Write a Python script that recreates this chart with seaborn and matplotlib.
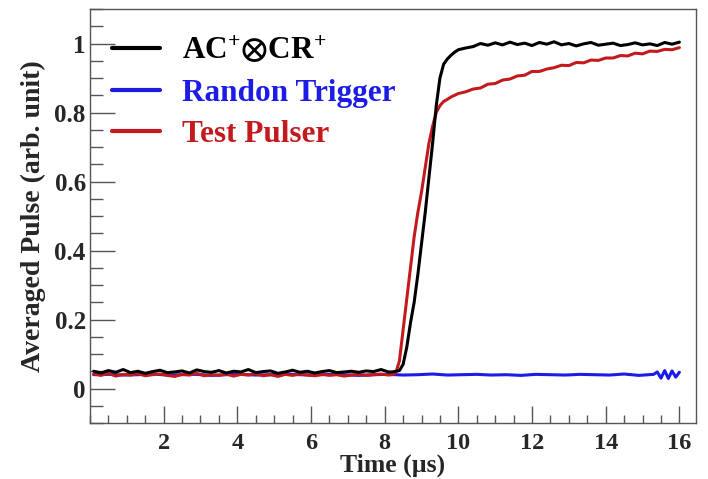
import matplotlib
matplotlib.use("Agg")
import matplotlib.pyplot as plt
from matplotlib.ticker import MultipleLocator
import seaborn as sns
import pandas as pd

TIME = [0.1, 0.3, 0.5, 0.7, 0.9, 1.1, 1.3, 1.5, 1.7, 1.9, 2.1, 2.3, 2.5, 2.7, 2.9,
        3.1, 3.3, 3.5, 3.7, 3.9, 4.1, 4.3, 4.5, 4.7, 4.9, 5.1, 5.3, 5.5, 5.7, 5.9,
        6.1, 6.3, 6.5, 6.7, 6.9, 7.1, 7.3, 7.5, 7.7, 7.9, 8.1,
        8.2, 8.3, 8.4, 8.5, 8.6, 8.7, 8.8, 8.9, 9.0, 9.1, 9.2, 9.3, 9.4, 9.5,
        9.6, 9.7, 9.8, 9.9, 10.0,
        10.2, 10.4, 10.6, 10.8, 11.0, 11.2, 11.4, 11.6, 11.8, 12.0, 12.2, 12.4,
        12.6, 12.8, 13.0, 13.2, 13.4, 13.6, 13.8, 14.0, 14.2, 14.4, 14.6, 14.8,
        15.0, 15.2, 15.4, 15.6, 15.8, 16.0]

AC_CR = [0.050, 0.045, 0.052, 0.047, 0.055, 0.046, 0.050, 0.044, 0.049, 0.053,
         0.046, 0.048, 0.051, 0.045, 0.054, 0.049, 0.047, 0.052, 0.045, 0.050,
         0.048, 0.055, 0.046, 0.049, 0.051, 0.044, 0.048, 0.053, 0.047, 0.050,
         0.045, 0.049, 0.052, 0.046, 0.048, 0.050, 0.047, 0.051, 0.049, 0.055, 0.048,
         0.048, 0.050, 0.052, 0.070, 0.12, 0.19, 0.25, 0.33, 0.42, 0.51,
         0.61, 0.71, 0.82, 0.90, 0.94, 0.955, 0.966, 0.975, 0.982,
         0.987, 0.991, 1.000, 0.995, 1.002, 0.996, 1.004, 0.997, 1.001, 0.994,
         1.003, 0.998, 1.005, 0.996, 1.000, 0.993, 0.999, 1.003, 0.995, 0.998,
         1.001, 0.994, 0.997, 1.002, 0.996, 0.999, 0.994, 1.003, 0.998, 1.004]

TEST_PULSER = [0.042, 0.038, 0.044, 0.036, 0.041, 0.039, 0.043, 0.037, 0.040, 0.042,
               0.038, 0.035, 0.041, 0.039, 0.044, 0.037, 0.040, 0.038, 0.042, 0.036,
               0.041, 0.039, 0.043, 0.037, 0.040, 0.035, 0.041, 0.038, 0.042, 0.039,
               0.037, 0.041, 0.038, 0.040, 0.036, 0.039, 0.041, 0.038, 0.040, 0.042, 0.039,
               0.040, 0.045, 0.080, 0.17, 0.26, 0.35, 0.44, 0.51, 0.57, 0.64,
               0.71, 0.76, 0.80, 0.82, 0.832, 0.838, 0.845, 0.850, 0.855,
               0.860, 0.868, 0.871, 0.882, 0.884, 0.894, 0.897, 0.906, 0.908, 0.919,
               0.919, 0.926, 0.930, 0.937, 0.936, 0.945, 0.944, 0.952, 0.951, 0.958,
               0.958, 0.965, 0.964, 0.972, 0.970, 0.978, 0.977, 0.983, 0.982, 0.988]

BLUE_TIME = [0.1, 0.5, 0.9, 1.3, 1.7, 2.1, 2.5, 2.9, 3.3, 3.7, 4.1, 4.5, 4.9, 5.3,
             5.7, 6.1, 6.5, 6.9, 7.3, 7.7, 8.1, 8.5, 8.9, 9.3, 9.7, 10.1, 10.5, 10.9,
             11.3, 11.7, 12.1, 12.5, 12.9, 13.3, 13.7, 14.1, 14.5, 14.9, 15.3,
             15.4, 15.5, 15.6, 15.7, 15.8, 15.9, 16.0]
RANDOM_TRIGGER = [0.040, 0.041, 0.039, 0.040, 0.042, 0.039, 0.040, 0.041, 0.038, 0.040,
                  0.041, 0.039, 0.040, 0.042, 0.040, 0.039, 0.041, 0.040, 0.038, 0.040,
                  0.041, 0.039, 0.040, 0.042, 0.039, 0.040, 0.041, 0.039, 0.040, 0.038,
                  0.041, 0.040, 0.039, 0.041, 0.040, 0.039, 0.042, 0.038, 0.041,
                  0.048, 0.030, 0.052, 0.029, 0.051, 0.033, 0.047]

LABELS = [r"AC$^{\mathbf{+}}$$\otimes$CR$^{\mathbf{+}}$", "Randon Trigger", "Test Pulser"]
COLORS = ["#000000", "#1c1ce6", "#c41a1e"]

sns.set_theme(style="white")
plt.rcParams["font.family"] = ["Liberation Serif", "DejaVu Serif"]
plt.rcParams["font.weight"] = "bold"
plt.rcParams["mathtext.fontset"] = "custom"
plt.rcParams["mathtext.rm"] = "Liberation Serif:bold"
plt.rcParams["mathtext.bf"] = "Liberation Serif:bold"
plt.rcParams["mathtext.it"] = "Liberation Serif:bold"
plt.rcParams["mathtext.fallback"] = "stix"

fig = plt.figure(figsize=(7.08, 4.79), dpi=100)
ax = fig.add_axes([0.1271, 0.1169, 0.983 - 0.1271, 0.9812 - 0.1169])

df_black = pd.DataFrame({"t": TIME, "v": AC_CR})
df_red = pd.DataFrame({"t": TIME, "v": TEST_PULSER})
df_blue = pd.DataFrame({"t": BLUE_TIME, "v": RANDOM_TRIGGER})

lw = 2.2
sns.lineplot(data=df_blue, x="t", y="v", ax=ax, color=COLORS[1], lw=lw, label=LABELS[1], zorder=2)
sns.lineplot(data=df_red, x="t", y="v", ax=ax, color=COLORS[2], lw=lw, label=LABELS[2], zorder=3)
sns.lineplot(data=df_black, x="t", y="v", ax=ax, color=COLORS[0], lw=lw, label=LABELS[0], zorder=4)

ax.set_xlim(0.0, 16.45)
ax.set_ylim(-0.1, 1.1)
ax.xaxis.set_major_locator(MultipleLocator(2))
ax.xaxis.set_minor_locator(MultipleLocator(0.5))
ax.yaxis.set_major_locator(MultipleLocator(0.2))
ax.yaxis.set_minor_locator(MultipleLocator(0.05))
ax.set_xticks([2, 4, 6, 8, 10, 12, 14, 16])
ax.set_xticklabels(["2", "4", "6", "8", "10", "12", "14", "16"])
ax.set_yticks([0, 0.2, 0.4, 0.6, 0.8, 1.0])
ax.set_yticklabels(["0", "0.2", "0.4", "0.6", "0.8", "1"])

spine_c = "#555555"
for s in ax.spines.values():
    s.set_color(spine_c)
    s.set_linewidth(1.0)
ax.tick_params(axis="x", which="major", direction="in", length=12, width=1.0,
               color=spine_c, labelsize=17.5, pad=7, bottom=True, top=False)
ax.tick_params(axis="x", which="minor", direction="in", length=6, width=1.0,
               color=spine_c, bottom=True, top=False)
ax.tick_params(axis="y", which="major", direction="in", length=18, width=1.0,
               color=spine_c, labelsize=18, pad=3, left=True, right=False)
ax.tick_params(axis="y", which="minor", direction="in", length=9, width=1.0,
               color=spine_c, left=True, right=False)
for lab in ax.get_xticklabels() + ax.get_yticklabels():
    lab.set_fontweight("bold")

ax.set_xlabel("Time (\u00b5s)", fontsize=18.5, fontweight="bold", labelpad=0)
ax.set_ylabel("Averaged Pulse (arb. unit)", fontsize=20, fontweight="bold", labelpad=6)

handles, labels = ax.get_legend_handles_labels()
order = [labels.index(l) for l in LABELS]
leg = ax.legend([handles[i] for i in order], [labels[i] for i in order],
                loc="upper left", bbox_to_anchor=(0.036, 0.937), frameon=False,
                borderpad=0, borderaxespad=0, handlelength=1.55, handletextpad=0.7,
                labelspacing=0.4,
                prop={"family": ["Liberation Serif", "DejaVu Serif"], "weight": "bold", "size": 22.5})
for line, text, c in zip(leg.get_lines(), leg.get_texts(), COLORS):
    line.set_linewidth(3.0)
    text.set_color(c)

fig.savefig("out.png", dpi=100)
